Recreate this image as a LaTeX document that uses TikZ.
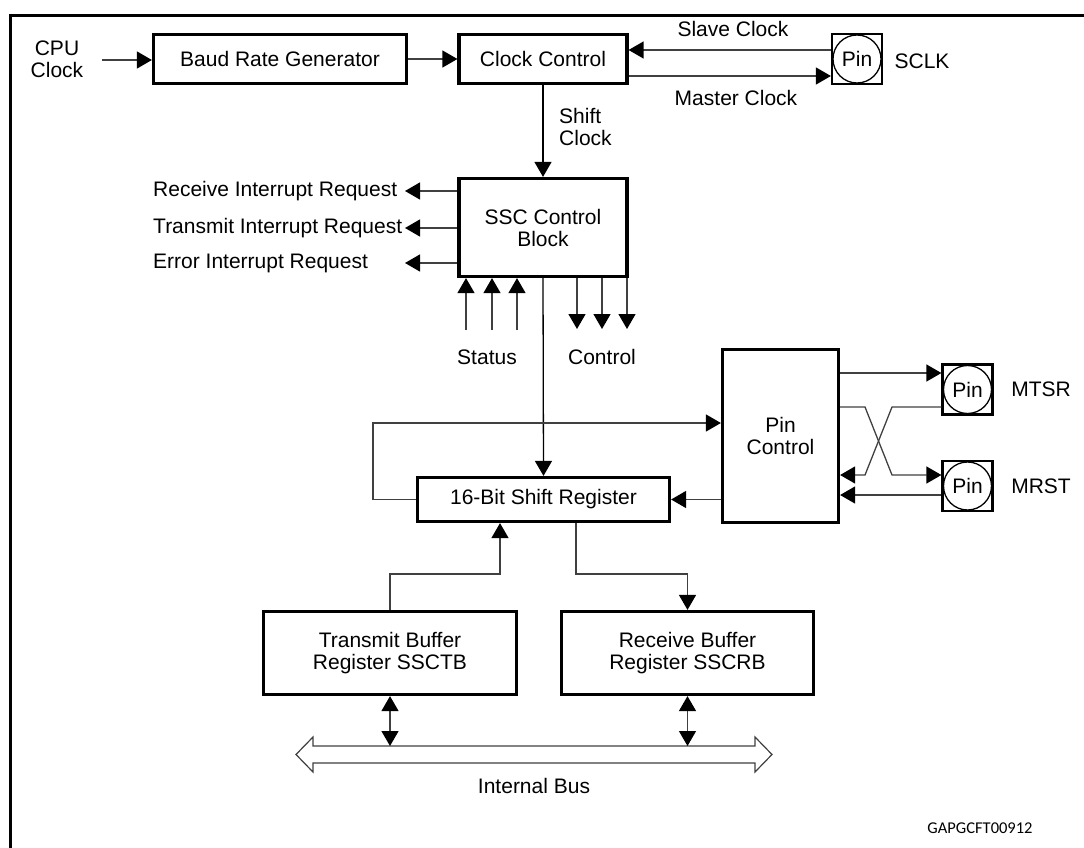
\documentclass[tikz,border=0pt]{standalone}
\usepackage{fontspec}
\setmainfont{Liberation Sans}
\newfontfamily\idfont{Carlito}
\usetikzlibrary{arrows.meta}
\tikzset{
  lbl/.style={font=\fontsize{21}{22}\selectfont, inner sep=0pt, align=center},
  blk/.style={draw, line width=3.2pt, inner sep=0pt, align=center, font=\fontsize{21}{22}\selectfont},
  pinbox/.style={draw, line width=2.2pt, minimum size=50pt, inner sep=0pt},
  pinc/.style={draw, circle, line width=1.3pt, minimum size=48pt, inner sep=0pt, font=\fontsize{21}{22}\selectfont},
  conn/.style={line width=1.3pt, draw=black!75},
  tip/.tip={Triangle[length=15pt,width=17pt,fill=black,color=black]},
  arr/.style={conn, -tip},
  arrb/.style={conn, tip-tip}
}
\begin{document}
\begin{tikzpicture}[x=1pt,y=-1pt]
\useasboundingbox (0,0) rectangle (1084,848);
% frame
\draw[line width=3pt] (10,860) -- (10,16) -- (1095,16);

% blocks
\node[blk, minimum width=253pt, minimum height=49pt] (brg) at (280,59) {Baud Rate Generator};
\node[blk, minimum width=168pt, minimum height=49pt] (cc) at (543,59) {Clock Control};
\node[blk, minimum width=168pt, minimum height=98pt] (ssc) at (543,227.5) {SSC Control\\Block};
\node[blk, minimum width=252pt, minimum height=44pt] (sr) at (543.5,499.5) {16-Bit Shift Register};
\node[blk, minimum width=116pt, minimum height=173pt] (pc) at (780.5,436) {Pin\\Control};
\node[blk, minimum width=253pt, minimum height=83pt] (tb) at (390,653) {Transmit Buffer\\Register SSCTB};
\node[blk, minimum width=252pt, minimum height=83pt] (rb) at (687.5,653) {Receive Buffer\\Register SSCRB};

% pins
\node[pinbox] (sclk) at (857,59) {};
\node[pinc] (sclkc) at (sclk) {Pin};
\node[pinbox] (mtsr) at (967.5,389.5) {};
\node[pinc] (mtsrc) at (mtsr) {Pin};
\node[pinbox] (mrst) at (967.5,486) {};
\node[pinc] (mrstc) at (mrst) {Pin};

% labels
\node[lbl] (cpu) at (57,59) {CPU\\Clock};
\node[lbl] (slave) at (733,29) {Slave Clock};
\node[lbl] (master) at (736,98) {Master Clock};
\node[lbl, anchor=west, align=left] (shift) at (559,127) {Shift\\Clock};
\node[lbl] (sclkl) at (922,61) {SCLK};
\node[lbl] (mtsrl) at (1041,389) {MTSR};
\node[lbl] (mrstl) at (1041,486) {MRST};
\node[lbl, anchor=west] (ril) at (153,191) {Receive Interrupt Request};
\node[lbl, anchor=west] (til) at (153,228) {Transmit Interrupt Request};
\node[lbl, anchor=west] (eil) at (153,263) {Error Interrupt Request};
\node[lbl] (stl) at (487,357) {Status};
\node[lbl] (ctl) at (602,357) {Control};
\node[lbl] (busl) at (534,786) {Internal Bus};
\node[font=\idfont\fontsize{16.5}{18}\selectfont, inner sep=0pt] (fig) at (980,828) {GAPGCFT00912};

% coordinates
\coordinate (cpuo) at (102,60);
\coordinate (ys) at (0,50);
\coordinate (ym) at (0,76);
\coordinate (ri) at (405,191);
\coordinate (ti) at (405,228);
\coordinate (ei) at (405,263);
\coordinate (st1) at (466,330);
\coordinate (st2) at (492,330);
\coordinate (st3) at (517,330);
\coordinate (ct1) at (577,329);
\coordinate (ct2) at (602,329);
\coordinate (ct3) at (627,329);
\coordinate (lp) at (373,423);
\coordinate (y1) at (0,373);
\coordinate (ya) at (0,407);
\coordinate (yb) at (0,475);
\coordinate (yc) at (0,495);
\coordinate (ybuf) at (0,574);
\coordinate (bustop) at (0,746);

% top row
\draw[arr] (cpuo) -- (brg.west |- cpuo);
\draw[arr] (brg.east) -- (cc.west);
\draw[arr] (sclk.west |- ys) -- (cc.east |- ys);
\draw[arr] (cc.east |- ym) -- (sclk.west |- ym);
\draw[arr, draw=black] (cc.south) -- (ssc.north);

% interrupts
\draw[arr] (ssc.west |- ri) -- (ri);
\draw[arr] (ssc.west |- ti) -- (ti);
\draw[arr] (ssc.west |- ei) -- (ei);

% status / control
\foreach \p in {st1,st2,st3} \draw[arr] (\p) -- (\p |- ssc.south);
\foreach \p in {ct1,ct2,ct3} \draw[arr] (\p |- ssc.south) -- (\p);

% ssc to shift register
\draw[arr, draw=black] (ssc.south) -- (sr.north);

% loop
\draw[arr] (sr.west) -| (lp) -- (lp -| pc.west);
\draw[arr] (pc.west |- sr.east) -- (sr.east);

% pin control to pins
\draw[arr] (pc.east |- y1) -- (mtsr.west |- y1);
\draw[arr] (mtsr.west |- ya) -- (892,407) -- (865,475) -- (pc.east |- yb);
\draw[arr] (pc.east |- ya) -- (865,407) -- (892,475) -- (mrst.west |- yb);
\draw[arr] (mrst.west |- yc) -- (pc.east |- yc);

% shift register <-> buffers
\draw[arr] ([xshift=32.5pt]sr.south) -- ([xshift=32.5pt]sr.south |- ybuf) -| (rb.north);
\draw[arr] (tb.north) -- (tb.north |- ybuf) -| ([xshift=-43.5pt]sr.south);

% bus
\draw[line width=1.2pt, draw=black!75, fill=white]
  (296,754.5) -- (313,737) -- (313,746) -- (755,746) -- (755,737) -- (772,754.5)
  -- (755,772) -- (755,763) -- (313,763) -- (313,772) -- cycle;
\draw[arrb] (tb.south) -- (tb.south |- bustop);
\draw[arrb] (rb.south) -- (rb.south |- bustop);
\end{tikzpicture}
\end{document}
